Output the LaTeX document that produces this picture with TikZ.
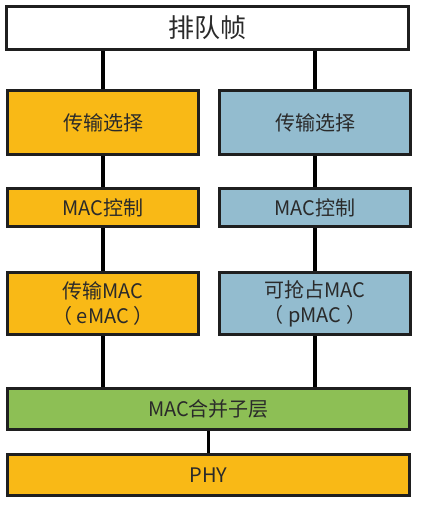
\documentclass[tikz,border=0pt]{standalone}
\usepackage{fontspec}
\setmainfont{Noto Sans CJK SC}
\usepackage{xcolor}
\usepackage{tikz}
\usetikzlibrary{positioning}
\definecolor{eorange}{HTML}{F9B916}
\definecolor{pblue}{HTML}{93BCCF}
\definecolor{mgreen}{HTML}{8DBF55}
\definecolor{txt}{HTML}{2A2A2A}

\begin{document}
\begin{tikzpicture}[x=1pt,y=1pt,line width=3.2pt,b/.style={draw=black!88,minimum width=190.8pt,align=center,text=txt,font=\fontsize{20}{25}\selectfont,inner sep=0pt},w/.style={b,minimum width=401.8pt}]
 \useasboundingbox (0,0) rectangle (420,-505);
 \node[w,fill=white,minimum height=42.8pt,anchor=north west,font=\fontsize{26}{30}\selectfont] (top) at (5,-5) {排队帧};
 \node[b,fill=eorange,minimum height=63.8pt,below=38pt of top.south west,anchor=north west,xshift=1pt] (ls) {传输选择};
 \node[b,fill=pblue,minimum height=63.8pt,right=18pt of ls] (rs) {传输选择};
 \node[b,fill=eorange,minimum height=37.8pt,below=31pt of ls] (lc) {MAC控制};
 \node[b,fill=pblue,minimum height=37.8pt,below=31pt of rs] (rc) {MAC控制};
 \node[b,fill=eorange,minimum height=61.8pt,below=43pt of lc] (le) {传输MAC\\（ eMAC ）};
 \node[b,fill=pblue,minimum height=61.8pt,below=43pt of rc] (rp) {可抢占MAC\\（ pMAC ）};
 \node[w,fill=mgreen,minimum height=40.8pt,below=51pt of le.south west,anchor=north west] (merge) {MAC合并子层};
 \node[w,fill=eorange,minimum height=40.8pt,below=22pt of merge] (phy) {PHY};
 \draw (ls.north |- top.south)--(ls); \draw (rs.north |- top.south)--(rs);
 \draw (ls)--(lc); \draw (rs)--(rc); \draw (lc)--(le); \draw (rc)--(rp);
 \draw (le)--(le.south |- merge.north); \draw (rp)--(rp.south |- merge.north);
 \draw (merge)--(phy);
\end{tikzpicture}
\end{document}
